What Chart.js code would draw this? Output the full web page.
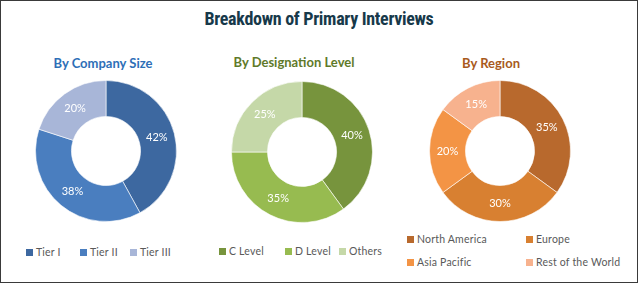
<!DOCTYPE html>
<html>
<head>
<meta charset="utf-8">
<script src="https://cdn.jsdelivr.net/npm/chart.js@4.4.1/dist/chart.umd.min.js"></script>
<style>
  html, body { margin: 0; padding: 0; background: #fff; }
  #frame { position: relative; width: 638px; height: 283px; box-sizing: border-box; border: 1px solid #3a3a3a; overflow: hidden; font-family: Lato, "Open Sans", sans-serif; }
  #title { position: absolute; left: 0; right: 0; top: 7px; text-align: center; font-family: "Liberation Sans Narrow", "Roboto Condensed", sans-serif; font-weight: bold; font-size: 18px; color: #17394a; letter-spacing: -0.3px; }
  .sub { position: absolute; font-weight: bold; font-size: 13px; white-space: nowrap; transform: translateX(-50%); }
  .wrap { position: absolute; width: 142px; height: 142px; }
  .leg { position: absolute; font-size: 10.5px; color: #595959; white-space: nowrap; line-height: 12px; letter-spacing: 0.2px; }
  .leg span.sq { display: inline-block; width: 7px; height: 7px; margin-right: 3px; vertical-align: 0px; }
</style>
</head>
<body>
<div id="frame">
  <div id="title">Breakdown of Primary Interviews</div>
  <div class="sub" style="left:102px; top:54px; color:#2e6fb7">By Company Size</div>
  <div class="sub" style="left:293px; top:53px; color:#5f7a2a">By Designation Level</div>
  <div class="sub" style="left:490px; top:54px; color:#a85a1c">By Region</div>
  <div class="wrap" style="left:34px; top:79px"><canvas id="c1"></canvas></div>
  <div class="wrap" style="left:230px; top:80px"><canvas id="c2"></canvas></div>
  <div class="wrap" style="left:428px; top:79px"><canvas id="c3"></canvas></div>
  <div id="legends"></div>
</div>
<script>
const sizeLabels = ['Tier I', 'Tier II', 'Tier III'];
const sizeValues = [42, 38, 20];
const sizeColors = ['#3d68a0', '#4a7ebf', '#a8b6d8'];

const levelLabels = ['C Level', 'D Level', 'Others'];
const levelValues = [40, 35, 25];
const levelColors = ['#77943d', '#97bb50', '#c5d8a8'];

const regionLabels = ['North America', 'Europe', 'Asia Pacific', 'Rest of the World'];
const regionValues = [35, 30, 20, 15];
const regionColors = ['#b8692d', '#d88031', '#f39445', '#f7b28e'];

// legend item spots (left of square, top of row)
const sizeLegendPos = [[25, 245], [79, 245], [129, 245]];
const levelLegendPos = [[218, 244], [284, 244], [338, 244]];
const regionLegendPos = [[406, 232], [525, 232], [406, 255], [525, 255]];

const pctLabels = {
  id: 'pctLabels',
  afterDatasetsDraw(chart) {
    const ctx = chart.ctx;
    const ds = chart.data.datasets[0];
    ctx.save();
    ctx.font = '11px Lato, "Open Sans", sans-serif';
    ctx.fillStyle = '#ffffff';
    ctx.textAlign = 'center';
    ctx.textBaseline = 'middle';
    chart.getDatasetMeta(0).data.forEach((arc, i) => {
      const p = arc.tooltipPosition();
      ctx.fillText(ds.data[i] + '%', p.x, p.y);
    });
    ctx.restore();
  }
};

function donut(id, labels, values, colors) {
  return new Chart(document.getElementById(id), {
    type: 'doughnut',
    data: {
      labels,
      datasets: [{
        data: values,
        backgroundColor: colors,
        borderColor: 'rgba(255,255,255,0.6)',
        borderWidth: 1
      }]
    },
    options: {
      responsive: true,
      maintainAspectRatio: false,
      animation: false,
      cutout: '49%',
      layout: { padding: 0 },
      plugins: { legend: { display: false }, tooltip: { enabled: false } }
    },
    plugins: [pctLabels]
  });
}

function legend(labels, colors, pos) {
  const box = document.getElementById('legends');
  labels.forEach((l, i) => {
    const d = document.createElement('div');
    d.className = 'leg';
    d.style.left = pos[i][0] + 'px';
    d.style.top = pos[i][1] + 'px';
    d.innerHTML = `<span class="sq" style="background:${colors[i]}"></span>${l}`;
    box.appendChild(d);
  });
}

donut('c1', sizeLabels, sizeValues, sizeColors);
donut('c2', levelLabels, levelValues, levelColors);
donut('c3', regionLabels, regionValues, regionColors);
legend(sizeLabels, sizeColors, sizeLegendPos);
legend(levelLabels, levelColors, levelLegendPos);
legend(regionLabels, regionColors, regionLegendPos);
</script>
</body>
</html>
